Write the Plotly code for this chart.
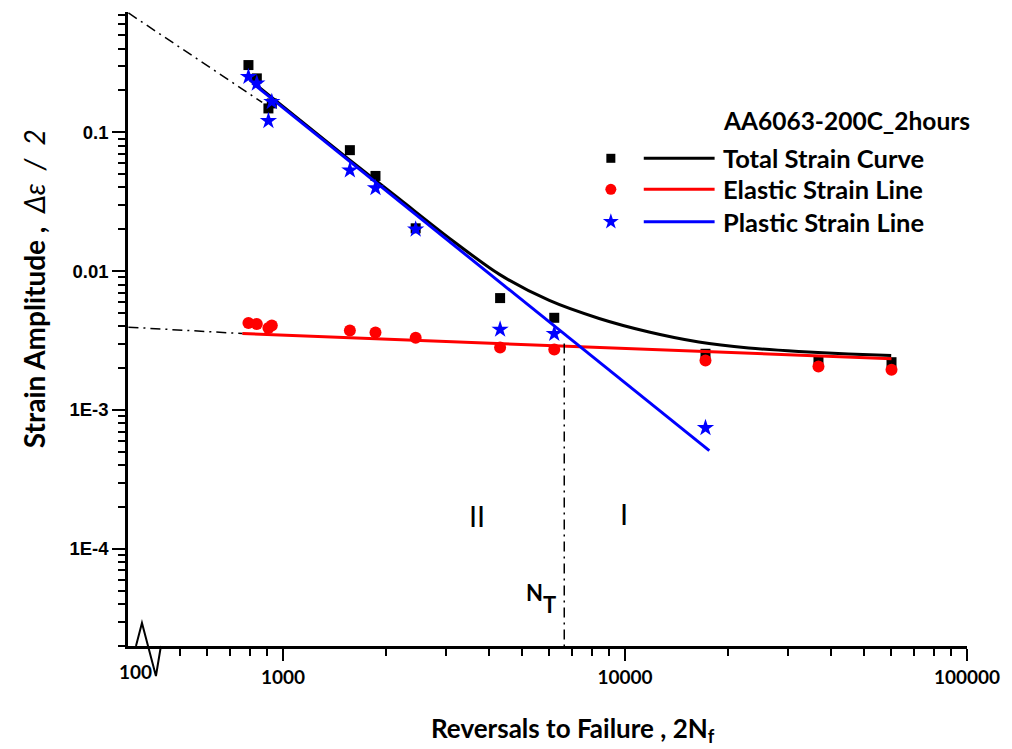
import plotly.graph_objects as go

# ---------------- data ----------------
reversals = [792, 838, 927, 906, 1568, 1863, 2442, 4312, 6209, 17190, 36780, 60150]
total_strain = [0.3041, 0.2439, 0.1610, 0.1482, 0.0742, 0.0484, 0.02032,
                0.00639, 0.00461, 0.002538, 0.002271, 0.002208]
elastic_strain = [0.004230, 0.004161, 0.004059, 0.003895, 0.003738, 0.003614,
                  0.003309, 0.002818, 0.002726, 0.002271, 0.002055, 0.001945]
plastic_reversals = [792, 838, 927, 906, 1568, 1863, 2442, 4312, 6209, 17190]
plastic_strain = [0.2505, 0.2245, 0.1654, 0.1206, 0.05321, 0.03967, 0.01998,
                  0.003799, 0.003538, 0.000743]

# total strain curve
curve_x = [801, 1121, 1568, 2193, 3068, 4292, 6004, 8400, 11750, 16430,
           22990, 32160, 44990, 60030]
curve_y = [0.2371, 0.1220, 0.06281, 0.03288, 0.01720, 0.009467, 0.006146,
           0.004560, 0.003644, 0.003087, 0.002794, 0.002636, 0.002529, 0.002467]

# fitted straight lines (end points)
elastic_line_x = [760, 60150]
elastic_line_y = [0.00355, 0.002335]
plastic_line_x = [813, 17640]
plastic_line_y = [0.2256, 0.000510]

# dash-dot extrapolations
elastic_ext_x = [353, 760]
elastic_ext_y = [0.003946, 0.00355]
plastic_ext_x = [353, 869]
plastic_ext_y = [0.7211, 0.1637]
transition_N = 6641
transition_y = [0.00301, 2e-5]

x_tickvals = [1000, 10000, 100000]
x_ticktext = ["1000", "10000", "100000"]
y_tickvals = [1e-4, 1e-3, 1e-2, 1e-1]
y_ticktext = ["1E-4", "1E-3", "0.01", "0.1"]

# ---------------- layout geometry ----------------
W, H = 1012, 749
L, R, T, B = 128, 43, 12, 103
PW, PH = W - L - R, H - T - B


def px(xp):
    return (xp - L) / PW


def py(yp):
    return (H - B - yp) / PH


BOLD = "Lato"
fig = go.Figure()

fig.add_trace(go.Scatter(x=reversals, y=total_strain, mode="markers",
                         marker=dict(symbol="square", size=10, color="black"),
                         showlegend=False))
fig.add_trace(go.Scatter(x=curve_x, y=curve_y, mode="lines",
                         line=dict(color="black", width=3, shape="spline", smoothing=0.8),
                         showlegend=False))
fig.add_trace(go.Scatter(x=reversals, y=elastic_strain, mode="markers",
                         marker=dict(symbol="circle", size=12, color="red"),
                         showlegend=False))
fig.add_trace(go.Scatter(x=elastic_line_x, y=elastic_line_y, mode="lines",
                         line=dict(color="red", width=3), showlegend=False))
fig.add_trace(go.Scatter(x=plastic_reversals, y=plastic_strain, mode="markers",
                         marker=dict(symbol="star", size=13, color="blue",
                                     line=dict(width=0)),
                         showlegend=False))
fig.add_trace(go.Scatter(x=plastic_line_x, y=plastic_line_y, mode="lines",
                         line=dict(color="blue", width=3), showlegend=False))

dd = "10px,5px,2px,5px"
for xs, ys in [(elastic_ext_x, elastic_ext_y), (plastic_ext_x, plastic_ext_y),
               ([transition_N, transition_N], transition_y)]:
    fig.add_trace(go.Scatter(x=xs, y=ys, mode="lines",
                             line=dict(color="black", width=1.5, dash=dd),
                             showlegend=False))

# legend markers on a hidden overlay axis
leg_rows = [(158.3, "square", 9, "black", "Total Strain Curve"),
            (189.3, "circle", 11, "red", "Elastic Strain Line"),
            (221.7, "star", 12, "blue", "Plastic Strain Line")]
for yy, sym, sz, col, lab in leg_rows:
    fig.add_trace(go.Scatter(x=[px(612)], y=[py(yy)], mode="markers",
                             marker=dict(symbol=sym, size=sz, color=col, line=dict(width=0)),
                             xaxis="x2", yaxis="y2", showlegend=False, hoverinfo="skip"))

shapes = []
annotations = []
for yy, sym, sz, col, lab in leg_rows:
    shapes.append(dict(type="line", xref="paper", yref="paper",
                       x0=px(645), x1=px(716), y0=py(yy), y1=py(yy),
                       line=dict(color=col, width=3)))
    annotations.append(dict(text="<b>" + lab + "</b>", xref="paper", yref="paper",
                            x=px(722), y=py(yy), xanchor="left", yanchor="middle",
                            showarrow=False, font=dict(family=BOLD, size=25.5, color="black")))
annotations.append(dict(text="<b>AA6063-200C_2hours</b>", xref="paper", yref="paper",
                        x=px(722), y=py(120), xanchor="left", yanchor="middle",
                        showarrow=False, font=dict(family=BOLD, size=24.5, color="black")))

# axis break zigzag on the x axis
zig = [(136, 646), (142, 623), (156, 676), (161, 646)]
path = "M " + " L ".join(f"{px(a):.5f},{py(b):.5f}" for a, b in zig)
shapes.append(dict(type="path", xref="paper", yref="paper", path=path,
                   line=dict(color="black", width=2)))

# fake "100" label under the break
annotations.append(dict(text="<b>100</b>", xref="paper", yref="paper",
                        x=px(136), y=py(658), xanchor="center", yanchor="top",
                        showarrow=False, font=dict(family=BOLD, size=19, color="black")))

# region labels
annotations.append(dict(text="II", xref="paper", yref="paper", x=px(478), y=py(515),
                        yanchor="middle", showarrow=False,
                        font=dict(family="Lato", size=29, color="black")))
annotations.append(dict(text="I", xref="paper", yref="paper", x=px(625), y=py(513),
                        yanchor="middle", showarrow=False,
                        font=dict(family="Lato", size=29, color="black")))
annotations.append(dict(text="<b>N</b>", xref="paper", yref="paper",
                        x=px(535), y=py(592), yanchor="middle", showarrow=False,
                        font=dict(family=BOLD, size=22, color="black")))
annotations.append(dict(text="<b>T</b>", xref="paper", yref="paper",
                        x=px(551), y=py(604), yanchor="middle", showarrow=False,
                        font=dict(family=BOLD, size=22, color="black")))

# axis titles
annotations.append(dict(text="<b>Reversals to Failure , 2N<sub>f</sub></b>",
                        xref="paper", yref="paper", x=px(430), y=py(729),
                        xanchor="left", yanchor="middle", showarrow=False,
                        font=dict(family=BOLD, size=26, color="black")))
annotations.append(dict(text="<b>Strain Amplitude ,  </b><i>Δε  /  2</i>",
                        xref="paper", yref="paper", x=px(34), y=py(289),
                        xanchor="center", yanchor="middle", textangle=-90,
                        showarrow=False,
                        font=dict(family=BOLD, size=28, color="black")))

x_minor = [m * 10 ** k for k in (2, 3, 4) for m in range(2, 10) if m * 10 ** k > 450]
y_minor = [m * 10 ** k for k in (-5, -4, -3, -2, -1) for m in range(2, 10)
           if 2e-5 <= m * 10 ** k <= 0.72]

fig.update_layout(
    width=W, height=H,
    margin=dict(l=L, r=R, t=T, b=B),
    paper_bgcolor="white", plot_bgcolor="white",
    showlegend=False,
    xaxis=dict(type="log", range=[2.5465, 5.0], showgrid=False, zeroline=False,
               showline=True, linecolor="black", linewidth=2.5,
               ticks="outside", ticklen=12, tickwidth=2, tickcolor="black",
               tickvals=x_tickvals, ticktext=["<b>" + t + "</b>" for t in x_ticktext],
               tickfont=dict(family=BOLD, size=19, color="black"),
               minor=dict(tickvals=x_minor, ticks="outside", ticklen=7,
                          tickwidth=2, tickcolor="black", showgrid=False)),
    yaxis=dict(type="log", range=[-4.699, -0.135], showgrid=False, zeroline=False,
               showline=True, linecolor="black", linewidth=2.5,
               ticks="outside", ticklen=13, tickwidth=2, tickcolor="black",
               tickvals=y_tickvals, ticktext=["<b>" + t + "</b>" for t in y_ticktext],
               tickfont=dict(family="Liberation Sans", size=18.5, color="black"),
               minor=dict(tickvals=y_minor, ticks="outside", ticklen=7,
                          tickwidth=2, tickcolor="black", showgrid=False)),
    xaxis2=dict(range=[0, 1], overlaying="x", visible=False),
    yaxis2=dict(range=[0, 1], overlaying="y", visible=False),
    shapes=shapes,
    annotations=annotations,
)

fig.write_html("out.html")
